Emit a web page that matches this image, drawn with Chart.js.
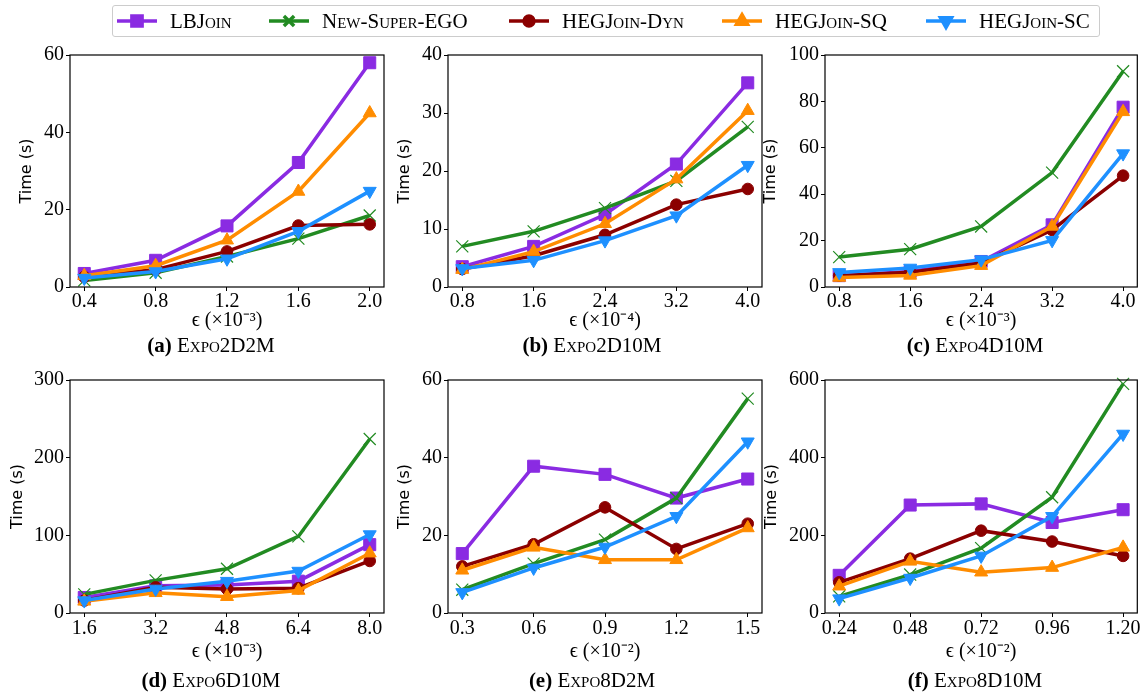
<!DOCTYPE html>
<html>
<head>
<meta charset="utf-8">
<script src="https://cdn.jsdelivr.net/npm/chart.js@4.4.0/dist/chart.umd.min.js"></script>
<style>
  html, body { margin:0; padding:0; background:#fff; }
  #wrap { position:relative; width:1147px; height:695px; overflow:hidden; background:#fff; }
  canvas.plot { position:absolute; left:0; top:0; }
  #legend { position:absolute; left:112px; top:5px; width:986px; height:30px; border:1px solid #cccccc; border-radius:3px; }
  .litem { position:absolute; top:0; height:30px; }
  .litem canvas { position:absolute; top:5px; left:0; }
  .ltext { position:absolute; top:0; line-height:30px; white-space:nowrap; font-family:"Liberation Serif", serif; font-size:21px; font-variant:small-caps; color:#000; }
  .cap { position:absolute; transform:translateX(-50%); white-space:nowrap; font-family:"Liberation Serif", serif; font-size:21px; line-height:22px; color:#000; }
  .cap b { font-weight:bold; }
  .cap span { font-variant:small-caps; }
</style>
</head>
<body>
<div id="wrap">
  <canvas class="plot" id="cA" width="1147" height="695"></canvas>
  <canvas class="plot" id="cB" width="1147" height="695"></canvas>
  <canvas class="plot" id="cC" width="1147" height="695"></canvas>
  <canvas class="plot" id="cD" width="1147" height="695"></canvas>
  <canvas class="plot" id="cE" width="1147" height="695"></canvas>
  <canvas class="plot" id="cF" width="1147" height="695"></canvas>
  <div id="legend"></div>
</div>
<script>
// ---------------- DATA ----------------
const seriesNames = ["LBJoin", "New-Super-EGO", "HEGJoin-Dyn", "HEGJoin-SQ", "HEGJoin-SC"];

// (a) Expo2D2M, eps x10^-3
const epsA = [0.4, 0.8, 1.2, 1.6, 2.0];
const lbA  = [3.5, 6.9, 15.8, 32.2, 58.0];
const egoA = [1.7, 3.7, 7.9, 12.5, 18.5];
const dynA = [2.6, 4.5, 9.2, 15.9, 16.2];
const sqA  = [2.9, 5.5, 12.1, 24.7, 45.0];
const scA  = [2.3, 4.0, 7.3, 14.4, 24.8];

// (b) Expo2D10M, eps x10^-4
const epsB = [0.8, 1.6, 2.4, 3.2, 4.0];
const lbB  = [3.5, 7.0, 12.5, 21.2, 35.2];
const egoB = [7.0, 9.6, 13.6, 18.3, 27.6];
const dynB = [3.1, 5.4, 9.0, 14.2, 16.9];
const sqB  = [3.0, 6.1, 10.9, 18.6, 30.4];
const scB  = [3.2, 4.6, 8.0, 12.3, 21.0];

// (c) Expo4D10M, eps x10^-3
const epsC = [0.8, 1.6, 2.4, 3.2, 4.0];
const lbC  = [4.9, 6.7, 11.0, 26.8, 77.5];
const egoC = [12.9, 16.3, 26.1, 49.3, 93.0];
const dynC = [4.9, 6.4, 10.3, 24.6, 48.0];
const sqC  = [4.1, 5.0, 9.2, 26.1, 75.5];
const scC  = [6.3, 8.2, 11.8, 20.1, 57.5];

// (d) Expo6D10M, eps x10^-3
const epsD = [1.6, 3.2, 4.8, 6.4, 8.0];
const lbD  = [20, 35, 36, 41, 88];
const egoD = [24, 42, 57, 98.6, 224];
const dynD = [16, 33, 31, 32, 67];
const sqD  = [15, 26, 21, 29, 77];
const scD  = [16, 31, 41, 54, 101];

// (e) Expo8D2M, eps x10^-2
const epsE = [0.3, 0.6, 0.9, 1.2, 1.5];
const lbE  = [15.3, 37.8, 35.7, 29.6, 34.5];
const egoE = [6.0, 12.7, 18.9, 29.6, 55.2];
const dynE = [12.0, 17.7, 27.2, 16.5, 23.0];
const sqE  = [11.0, 16.9, 13.7, 13.7, 21.9];
const scE  = [5.3, 11.6, 17.0, 24.9, 44.1];

// (f) Expo8D10M, eps x10^-2
const epsF = [0.24, 0.48, 0.72, 0.96, 1.20];
const lbF  = [97, 278, 281, 233, 266];
const egoF = [43, 99, 167, 298, 590];
const dynF = [79, 140, 212, 184, 147];
const sqF  = [69, 133, 105, 117, 169];
const scF  = [37, 90, 147, 249, 461];

// ---------------- STYLE ----------------
const colors = ["#8A2BE2", "#228B22", "#8B0000", "#FF8C00", "#1E90FF"];
const markers = [
  { pointStyle: "rect", radius: 8.5, rotation: 0, borderWidth: 1 },
  { pointStyle: "crossRot", radius: 8.5, rotation: 0, borderWidth: 1.2 },
  { pointStyle: "circle", radius: 5.8, rotation: 0, borderWidth: 1 },
  { pointStyle: "triangle", radius: 7.5, rotation: 0, borderWidth: 1 },
  { pointStyle: "triangle", radius: 7.5, rotation: 180, borderWidth: 1 }
];
const LINE_W = 3.5;
const W = 1147, H = 695;

const framePlugin = {
  id: "frame",
  afterDatasetsDraw(chart) {
    const a = chart.chartArea, ctx = chart.ctx;
    ctx.save();
    ctx.strokeStyle = "#000";
    ctx.lineWidth = 1.2;
    ctx.strokeRect(a.left, a.top, a.right - a.left, a.bottom - a.top);
    ctx.restore();
  }
};

function makePanel(id, p) {
  const xs = p.xs;
  const span = xs[xs.length - 1] - xs[0];
  const datasets = p.series.map((vals, i) => ({
    label: seriesNames[i],
    data: xs.map((x, j) => ({ x: x, y: vals[j] })),
    borderColor: colors[i],
    backgroundColor: colors[i],
    borderWidth: LINE_W,
    tension: 0,
    fill: false,
    clip: false,
    order: 4 - i,
    pointStyle: markers[i].pointStyle,
    pointRadius: markers[i].radius,
    pointRotation: markers[i].rotation,
    pointBorderWidth: markers[i].borderWidth,
    pointBackgroundColor: colors[i],
    pointBorderColor: colors[i]
  }));
  const yW = p.left - p.yTitleX + 8;   // y scale box width
  const xH = p.xTitleY - p.bottom + 10;  // x scale box height
  new Chart(document.getElementById(id), {
    type: "line",
    data: { datasets },
    plugins: [framePlugin],
    options: {
      responsive: false,
      animation: false,
      events: [],
      layout: { padding: { left: p.left - yW, right: W - p.right, top: p.top, bottom: H - p.bottom - xH } },
      plugins: { legend: { display: false }, tooltip: { enabled: false } },
      scales: {
        x: {
          type: "linear",
          min: xs[0] - 0.05 * span,
          max: xs[xs.length - 1] + 0.05 * span,
          afterBuildTicks: (s) => { s.ticks = xs.map(v => ({ value: v })); },
          afterFit: (s) => { s.height = xH; s.paddingLeft = 0; s.paddingRight = 0; },
          ticks: {
            autoSkip: false, maxRotation: 0, minRotation: 0,
            color: "#000",
            padding: p.xTickPad,
            font: { family: "Liberation Serif", size: 20, lineHeight: 1 },
            callback: (v) => Number(v).toFixed(p.dec)
          },
          grid: { drawOnChartArea: false, drawTicks: true, tickLength: 4, color: "#000", tickWidth: 1 },
          border: { display: false },
          title: { display: true, text: p.xTitle, color: "#000", padding: 0,
                   font: { family: "Liberation Serif", size: 20, lineHeight: 1 } }
        },
        y: {
          type: "linear",
          min: 0, max: p.ymax,
          ticks: {
            stepSize: p.ystep, color: "#000", padding: 2,
            font: { family: "Liberation Serif", size: 20, lineHeight: 1 }
          },
          afterFit: (s) => { s.width = yW; s.paddingTop = 0; s.paddingBottom = 0; },
          grid: { drawOnChartArea: false, drawTicks: true, tickLength: 4, color: "#000", tickWidth: 1 },
          border: { display: false },
          title: { display: true, text: "Time (s)", color: "#000", padding: 0,
                   font: { family: "DejaVu Sans", size: 16, lineHeight: 1 } }
        }
      }
    }
  });
}

const topRow = { top: 55, bottom: 287, xTitleY: 321, xTickPad: 0.5 };
const botRow = { top: 380, bottom: 613, xTitleY: 652, xTickPad: 1.5 };

makePanel("cA", Object.assign({}, topRow, { left: 70, right: 384, yTitleX: 27, xs: epsA, series: [lbA, egoA, dynA, sqA, scA], ymax: 60, ystep: 20, dec: 1, xTitle: "ϵ (×10⁻³)" }));
makePanel("cB", Object.assign({}, topRow, { left: 448, right: 762, yTitleX: 405, xs: epsB, series: [lbB, egoB, dynB, sqB, scB], ymax: 40, ystep: 10, dec: 1, xTitle: "ϵ (×10⁻⁴)" }));
makePanel("cC", Object.assign({}, topRow, { left: 825, right: 1141, yTitleX: 771, xs: epsC, series: [lbC, egoC, dynC, sqC, scC], ymax: 100, ystep: 20, dec: 1, xTitle: "ϵ (×10⁻³)" }));
makePanel("cD", Object.assign({}, botRow, { left: 70, right: 384, yTitleX: 18, xs: epsD, series: [lbD, egoD, dynD, sqD, scD], ymax: 300, ystep: 100, dec: 1, xTitle: "ϵ (×10⁻³)" }));
makePanel("cE", Object.assign({}, botRow, { left: 448, right: 762, yTitleX: 405, xs: epsE, series: [lbE, egoE, dynE, sqE, scE], ymax: 60, ystep: 20, dec: 1, xTitle: "ϵ (×10⁻²)" }));
makePanel("cF", Object.assign({}, botRow, { left: 825, right: 1141, yTitleX: 772, xs: epsF, series: [lbF, egoF, dynF, sqF, scF], ymax: 600, ystep: 200, dec: 2, xTitle: "ϵ (×10⁻²)" }));

// ---------------- CAPTIONS ----------------
const captionLetters = ["(a)", "(b)", "(c)", "(d)", "(e)", "(f)"];
const captionNames = ["Expo2D2M", "Expo2D10M", "Expo4D10M", "Expo6D10M", "Expo8D2M", "Expo8D10M"];
const capX = [211, 592, 975, 211, 592, 975];
const capY = [345, 345, 345, 680, 680, 680];
const wrap = document.getElementById("wrap");
captionNames.forEach((n, i) => {
  const d = document.createElement("div");
  d.className = "cap";
  d.style.left = capX[i] + "px";
  d.style.top = (capY[i] - 11) + "px";
  d.innerHTML = "<b>" + captionLetters[i] + "</b> <span>" + n + "</span>";
  wrap.appendChild(d);
});

// ---------------- LEGEND ----------------
const legend = document.getElementById("legend");
const legTextX = [170, 322, 562, 775, 979];
seriesNames.forEach((name, i) => {
  const item = document.createElement("div");
  item.className = "litem";
  item.style.left = (legTextX[i] - 53 - 113) + "px";
  const cv = document.createElement("canvas");
  cv.width = 40; cv.height = 20;
  item.appendChild(cv);
  const ctx = cv.getContext("2d");
  ctx.strokeStyle = colors[i];
  ctx.lineWidth = LINE_W;
  ctx.beginPath(); ctx.moveTo(0, 10); ctx.lineTo(40, 10); ctx.stroke();
  ctx.fillStyle = colors[i];
  if (Chart.helpers && Chart.helpers.drawPoint) {
    Chart.helpers.drawPoint(ctx, { pointStyle: markers[i].pointStyle, rotation: markers[i].rotation,
      radius: markers[i].radius * 0.85, borderWidth: markers[i].borderWidth }, 20, 10);
  }
  const t = document.createElement("div");
  t.className = "ltext";
  t.style.left = "53px";
  t.textContent = name;
  item.appendChild(t);
  legend.appendChild(item);
});
</script>
</body>
</html>
